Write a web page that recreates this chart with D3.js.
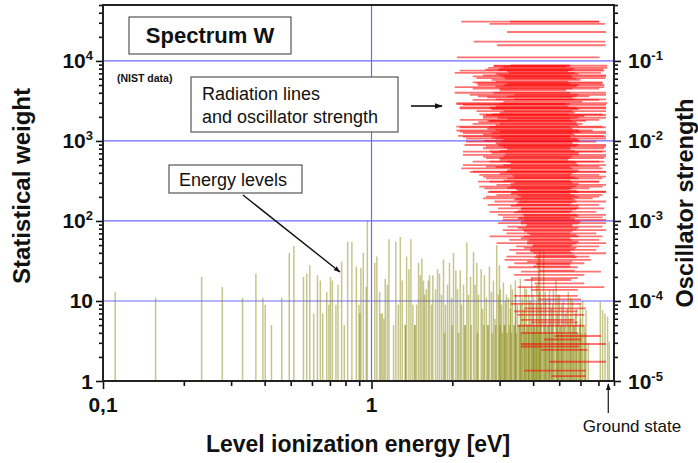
<!DOCTYPE html>
<html><head><meta charset="utf-8">
<script src="https://cdn.jsdelivr.net/npm/d3@7"></script>
<style>body{margin:0;background:#fff} svg{display:block} text{font-family:"Liberation Sans",Arial,sans-serif}</style>
</head><body><svg id="c" width="698" height="463"></svg>
<script>
// Energy levels: [ionization energy of level (eV), statistical weight]
const energyLevels = [
[0.111,13],[0.157,11],[0.233,20],[0.278,15],[0.331,11],[0.371,22],[0.394,11],[0.402,9],[0.424,5],[0.463,11],[0.494,40],[0.514,49],[0.558,20],[0.574,22],[0.589,28],[0.609,7],[0.629,21],[0.645,18],[0.658,7],[0.681,13],[0.694,9],[0.703,20],[0.715,18],[0.737,9],[0.750,16],[0.774,31],[0.792,5],[0.815,55],[0.845,55],[0.878,27],[0.898,9],[0.905,7],[0.913,26],[0.932,40],[0.956,15],[0.965,100],
[1.029,30],[1.047,36],[1.072,13],[1.084,7],[1.097,7],[1.112,6],[1.125,19],[1.145,16],[1.161,59],[1.208,5],[1.232,55],[1.258,9],[1.280,63],[1.302,18],[1.336,5],[1.338,5],[1.351,36],[1.378,25],[1.402,59],[1.426,9],[1.450,5],[1.452,5],[1.472,9],[1.497,30],[1.519,21],[1.540,34],[1.562,18],[1.576,12],[1.599,14],[1.627,18],[1.645,21],[1.673,9],[1.692,21],[1.732,14],[1.762,25],[1.792,22],[1.823,12],[1.854,33],[1.886,9],[1.919,16],[1.952,30],[1.986,11],[2.020,40],[2.061,24],[2.091,14],[2.140,24],[2.164,9],[2.201,16],[2.229,5],[2.231,5],[2.264,54],[2.297,12],[2.337,20],[2.398,41],[2.429,16],[2.466,30],[2.502,12],[2.560,25],[2.589,8],[2.634,21],[2.679,11],[2.714,5],[2.716,5],[2.749,27],[2.797,13],[2.845,18],[2.882,6],[2.926,50],[2.970,12],[2.995,28],[3.047,9],[3.099,17],[3.139,5],[3.179,12],[3.234,11],[3.29,8],[3.347,14],[3.39,5],[3.434,18],[3.493,9],[3.538,5],[3.584,19],[3.646,11],[3.709,8],[3.774,14],[3.839,5],[3.889,10],[3.95,20],[4.009,12],[4.061,5],[4.113,9],[4.184,36],[4.231,44],[4.292,9],[4.378,42],[4.442,13],[4.519,5],[4.596,11],[4.676,8],[4.755,14],[4.867,18],[4.921,7],[5.007,12],[5.093,5],[5.181,10],[5.27,7],[5.408,13],[5.502,6],[5.61,10],[5.69,5],[5.789,8],[5.889,4],[5.991,9.4],[6.111,10],[6.2,5],[6.291,7.7],[6.417,3],[7.113,9.8],[7.254,7.7],[7.405,7],[7.572,6.4],[7.68,3.1],
[1.87,4],[2.0,5],[2.11,4],[2.35,5],[2.48,4],[2.62,5],[2.82,4],[2.9,5],[3.01,5],[3.07,4],[3.12,5],[3.2,4],[3.26,5],[3.32,4],[3.41,5],[3.46,4],[3.56,5],[3.62,4],[3.68,5],[3.75,4],[3.8,5],[3.86,4],[3.93,5],[3.98,4],[4.03,5],[4.08,4],[4.15,5],[4.2,4],[4.26,5],[4.33,4],[4.4,5],[4.48,4],[4.56,5],[4.62,4],[4.7,5],[4.8,4],[4.9,5],[4.97,4],[5.05,5],[5.13,4],[5.22,5],[5.33,4],[5.45,5],[5.55,4],[5.65,5],[5.82,4],[5.95,5],[6.05,4],[6.25,4],
[3.02,14],[3.15,10],[3.3,16],[3.44,12],[3.6,9],[3.72,15],[3.85,12],[4.0,9],[4.12,16],[4.25,13],[4.45,10],[4.6,14],[4.72,9],[4.95,12],[5.12,9],[5.35,8],[5.52,11],[5.75,7],[6.0,6]
];

// Radiation lines: [upper-level ionization energy, lower-level ionization energy (eV), oscillator strength]
const radiationLines = [
[2.16,7.05,0.31],[3.28,7.05,0.31],[2.75,7.40,0.29],[3.20,7.47,0.23],[2.40,7.42,0.174],[2.93,7.45,0.157],[2.08,7.07,0.111],
[2.85,7.55,0.087],[2.85,5.46,0.086],[2.72,7.55,0.082],[2.65,7.30,0.078],[2.04,7.15,0.071],[2.60,7.47,0.066],[2.46,7.42,0.061],[2.38,7.25,0.054],[2.49,7.36,0.050],[2.38,7.05,0.045],[2.04,7.47,0.040],[2.49,6.47,0.036],[3.40,7.47,0.033],[2.07,5.31,0.0289],[2.19,7.47,0.0283],[2.13,7.47,0.0262],[2.46,7.47,0.0236],[2.52,7.25,0.0215],[2.60,7.47,0.0195],[2.75,6.29,0.0178],[2.38,6.11,0.0163],[2.13,7.47,0.0148],[2.07,6.66,0.0135],[2.19,7.47,0.0125],[2.10,7.36,0.0116],[2.25,7.47,0.0107],[2.63,5.94,0.0100],
[2.13,7.36,0.0757],[2.38,7.47,0.064],[2.46,7.25,0.0526],[2.04,7.36,0.047],[2.32,7.47,0.0376],[2.38,7.05,0.0326],[2.07,7.55,0.0296],[2.13,7.47,0.0256],[2.67,7.47,0.0211],[2.13,7.05,0.0183],[2.07,7.25,0.0151],[2.13,7.47,0.0131],[2.19,7.47,0.0113],[2.25,6.87,0.0098],[2.67,7.47,0.0085],[2.19,7.25,0.00735],[2.60,7.47,0.00637],[2.38,7.36,0.00551],[2.67,7.05,0.00477],[2.38,7.47,0.00413],[2.60,7.47,0.00358],[2.75,7.05,0.0031],[2.52,7.25,0.00268],[2.75,7.47,0.00232],[2.67,7.05,0.00201],
[2.22,7.47,0.0089],[2.60,7.36,0.0081],[2.75,7.47,0.0074],[2.19,7.47,0.0067],[2.67,7.36,0.0061],[2.75,7.05,0.0055],[2.19,7.47,0.0050],[2.16,7.25,0.00455],[2.32,7.47,0.0041],[2.52,7.05,0.00376],[2.67,7.25,0.0034],[2.49,7.05,0.0031],[2.92,7.47,0.00282],[2.63,6.47,0.00256],[2.71,7.47,0.0023],[2.92,7.25,0.00212],[2.60,6.66,0.00192],[2.87,7.47,0.00175],[2.71,7.05,0.00159],[2.96,7.36,0.00144],[2.75,6.87,0.0013],[2.96,7.47,0.00119],[3.08,7.25,0.00111],[3.08,7.47,0.00103],[2.96,7.47,0.00094],[3.21,7.25,0.00085],[3.08,7.47,0.00077],[3.18,6.87,0.0007],[2.75,7.25,0.00064],[3.26,7.05,0.00058],[2.92,7.47,0.00053],[3.45,7.05,0.00048],[3.26,6.87,0.000435],[3.45,7.47,0.000395],[3.18,6.47,0.000358],
[3.13,6.56,0.000326],[3.40,6.20,0.000296],[3.22,5.86,0.000264],[3.60,7.15,0.000233],[3.40,6.20,0.000212],[3.93,5.86,0.000193],[3.71,5.54,0.000183],[4.05,6.20,0.000166],[3.50,7.36,0.000149],[3.93,5.86,0.000138],[3.40,5.86,0.000116],[4.16,6.03,0.000105],[3.29,6.03,9.2e-5],[3.71,6.29,8.1e-5],[3.40,5.86,7.4e-5],[3.50,6.20,6.7e-5],[3.60,5.69,5.8e-5],[3.93,5.86,5.4e-5],[3.50,6.20,4.9e-5],[3.60,5.86,4.0e-5],[4.80,7.15,3.65e-5],[4.40,6.03,3.3e-5],[3.60,7.47,2.9e-5],[3.60,5.94,2.7e-5],[4.28,6.38,2.45e-5],[4.60,7.47,1.74e-5],[3.71,6.29,1.35e-5],[4.67,6.29,1.15e-5],
[3.3,5.5,0.088],[3.0,5.7,0.080],[3.2,5.4,0.074],[2.9,5.9,0.069],[3.1,5.6,0.063],[2.8,6.0,0.058],[3.2,5.5,0.052],[2.9,5.8,0.048],[3.0,5.3,0.043],[3.4,5.9,0.038],[2.7,5.6,0.035],[3.1,6.1,0.031],[2.9,5.4,0.027],[2.8,5.9,0.025],[3.0,5.7,0.0225],[2.6,6.2,0.0205],[3.2,5.5,0.019],[2.5,5.8,0.0172],[2.9,5.9,0.0158],[2.7,5.6,0.0142],[3.0,6.0,0.0130],[2.6,5.7,0.0120],[2.8,5.5,0.0111],[3.1,5.9,0.0103],[2.9,5.6,0.0094],[3.0,5.8,0.0087],[3.2,5.5,0.0079],[2.8,5.9,0.0071],[3.1,5.6,0.0064],[3.0,5.4,0.0058],[3.3,5.8,0.0053],[2.9,5.5,0.0047],[3.2,5.9,0.0043],[3.0,5.6,0.0039],[3.4,5.7,0.0035],[3.1,5.5,0.0032],[3.3,5.9,0.0029],[3.2,5.6,0.0026],[3.5,5.8,0.0024],[3.3,5.5,0.0022],[3.6,5.9,0.0020],[3.4,5.7,0.00185],[3.5,5.6,0.0017],[3.3,5.9,0.00155],[3.6,5.8,0.0014],[3.4,5.5,0.00128],[3.7,5.9,0.00116],[3.5,5.7,0.00107],[3.6,6.0,0.00098],[3.8,5.6,0.0009],[3.5,5.9,0.00082],[3.7,5.6,0.00074],[3.9,5.8,0.00067],[3.6,5.5,0.00061],[3.8,5.9,0.00055],[4.0,5.6,0.0005],[3.7,5.8,0.00046],[3.9,5.5,0.00042],[4.1,5.7,0.00037],[3.8,5.6,0.00031],[4.0,5.5,0.00027],[4.2,5.7,0.00024],
[3.1,5.3,0.085],[2.95,5.6,0.077],[3.25,5.7,0.071],[3.0,5.5,0.066],[3.15,5.8,0.060],[2.9,5.4,0.055],[3.1,5.9,0.050],[3.0,5.6,0.045],[2.85,5.5,0.040],[3.2,5.8,0.036],[2.9,5.7,0.033],[3.0,5.5,0.029],[2.75,5.8,0.026],[3.1,5.6,0.0235],[2.8,5.4,0.0215],[2.95,5.9,0.0195],[2.7,5.6,0.0178],[3.0,5.8,0.0165],[2.75,5.5,0.015],[2.9,5.9,0.0136],[2.8,5.6,0.0125],[3.0,5.5,0.0115],[2.9,5.8,0.0107],[3.05,5.6,0.0098],[2.95,5.9,0.009],[3.1,5.5,0.0083],[3.0,5.7,0.0075],[3.15,5.9,0.0068],[3.0,5.5,0.0061],[3.2,5.7,0.0055],[3.1,5.9,0.005],[3.3,5.6,0.0045],[3.15,5.8,0.0041],[3.35,5.5,0.0037],[3.2,5.9,0.0034],[3.4,5.6,0.003],[3.3,5.8,0.0027],[3.45,5.5,0.0025],[3.35,5.9,0.0023],[3.5,5.7,0.0021],[3.45,5.6,0.0019],[3.55,5.8,0.00175],[3.45,5.5,0.0016],[3.6,5.9,0.00145],[3.5,5.6,0.00133],[3.65,5.8,0.0012],[3.55,5.5,0.0011],[3.7,5.7,0.00102],[3.6,5.9,0.00093],[3.75,5.6,0.00086],[3.65,5.8,0.00078],[3.8,5.5,0.0007],[3.7,5.9,0.00064],[3.85,5.6,0.00058],[3.8,5.8,0.00052],[3.95,5.5,0.00048],[3.9,5.7,0.00044],[4.0,5.6,0.0004],[4.05,5.8,0.00035],[4.1,5.5,0.00029]
];

const xMajorTicks = [0.1, 1];
const xTickLabels = ["0,1", "1"];
const yLeftTicks = [1, 10, 100, 1000, 10000];
const yLeftBase = ["1", "10", "10", "10", "10"];
const yLeftExp = ["", "", "2", "3", "4"];
const yRightTicks = [1e-5, 1e-4, 1e-3, 1e-2, 1e-1];
const yRightBase = ["10", "10", "10", "10", "10"];
const yRightExp = ["-5", "-4", "-3", "-2", "-1"];
const gridValues = [10, 100, 1000, 10000];
const groundState = 7.62;

const m = {l:103, r:614, t:5, b:381};
const svg = d3.select("#c");
const x = d3.scaleLog().domain([0.1, 8]).range([m.l, m.r]);
const y = d3.scaleLog().domain([1, 5e4]).range([m.b, m.t]);
const y2 = d3.scaleLog().domain([1e-5, 0.5]).range([m.b, m.t]);

const defs = svg.append("defs");
defs.append("clipPath").attr("id","clip").append("rect")
  .attr("x", m.l).attr("y", m.t).attr("width", m.r-m.l).attr("height", m.b-m.t);
defs.append("marker").attr("id","arr").attr("viewBox","0 0 10 10").attr("refX",9).attr("refY",5)
  .attr("markerWidth",5).attr("markerHeight",5).attr("orient","auto").attr("markerUnits","strokeWidth")
  .append("path").attr("d","M0,1.5 L10,5 L0,8.5 z").attr("fill","#111");

const plot = svg.append("g").attr("clip-path","url(#clip)");
// grid
plot.selectAll(".gh").data(gridValues).join("line")
  .attr("x1", m.l).attr("x2", m.r).attr("y1", d=>y(d)).attr("y2", d=>y(d))
  .attr("stroke","#6a6aff").attr("stroke-width",1.2);
plot.append("line").attr("x1", x(1)).attr("x2", x(1)).attr("y1", m.t).attr("y2", m.b)
  .attr("stroke","#6a6aff").attr("stroke-width",1.2);

// energy level bars
plot.selectAll(".bar").data(energyLevels).join("line")
  .attr("x1", d=>x(d[0])).attr("x2", d=>x(d[0]))
  .attr("y1", y(1)).attr("y2", d=>y(d[1]))
  .attr("stroke","#808000").attr("stroke-opacity",0.45).attr("stroke-width",1.5);

// radiation lines
plot.selectAll(".rad").data(radiationLines).join("line")
  .attr("x1", d=>x(d[0])).attr("x2", d=>x(d[1]))
  .attr("y1", d=>y2(d[2])).attr("y2", d=>y2(d[2]))
  .attr("stroke","#ff0000").attr("stroke-opacity",0.55).attr("stroke-width",1.8);

// axes
const ax = svg.append("g");
const xMinor = x.ticks().filter(v => !xMajorTicks.includes(v));
ax.append("g").attr("transform",`translate(0,${m.b})`)
  .call(d3.axisBottom(x).tickValues(xMinor).tickSize(5).tickFormat(""))
  .call(g=>g.select(".domain").remove());
ax.append("g").attr("transform",`translate(0,${m.b})`)
  .call(d3.axisBottom(x).tickValues(xMajorTicks).tickSize(8).tickFormat(""))
  .call(g=>g.select(".domain").remove());
const yMinor = y.ticks().filter(v => !yLeftTicks.includes(v));
ax.append("g").attr("transform",`translate(${m.l},0)`)
  .call(d3.axisLeft(y).tickValues(yMinor).tickSize(4).tickFormat(""))
  .call(g=>g.select(".domain").remove());
ax.append("g").attr("transform",`translate(${m.l},0)`)
  .call(d3.axisLeft(y).tickValues(yLeftTicks).tickSize(7).tickFormat(""))
  .call(g=>g.select(".domain").remove());
const y2Minor = y2.ticks().filter(v => !yRightTicks.some(t => Math.abs(t - v) / t < 1e-6));
ax.append("g").attr("transform",`translate(${m.r},0)`)
  .call(d3.axisRight(y2).tickValues(y2Minor).tickSize(4).tickFormat(""))
  .call(g=>g.select(".domain").remove());
ax.append("g").attr("transform",`translate(${m.r},0)`)
  .call(d3.axisRight(y2).tickValues(yRightTicks).tickSize(7).tickFormat(""))
  .call(g=>g.select(".domain").remove());
ax.selectAll(".tick line").attr("stroke","#111").attr("stroke-width",1.6);

// frame
svg.append("rect").attr("x", m.l).attr("y", m.t).attr("width", m.r-m.l).attr("height", m.b-m.t)
  .attr("fill","none").attr("stroke","#222").attr("stroke-width",2);

// tick labels
xMajorTicks.forEach((v,i)=>{
  svg.append("text").attr("x", x(v)).attr("y", 412).attr("text-anchor","middle")
    .attr("font-size",21).attr("font-weight","bold").attr("fill","#111").text(xTickLabels[i]);
});
yLeftTicks.forEach((v,i)=>{
  const t = svg.append("text").attr("x", 93).attr("y", y(v)+7.5).attr("text-anchor","end")
    .attr("font-size",21).attr("font-weight","bold").attr("fill","#111");
  t.append("tspan").text(yLeftBase[i]);
  if (yLeftExp[i]) t.append("tspan").attr("dy",-8).attr("font-size",13).text(yLeftExp[i]);
});
yRightTicks.forEach((v,i)=>{
  const t = svg.append("text").attr("x", 628).attr("y", y2(v)+7.5).attr("text-anchor","start")
    .attr("font-size",21).attr("font-weight","bold").attr("fill","#111");
  t.append("tspan").text(yRightBase[i]);
  t.append("tspan").attr("dy",-8).attr("font-size",13).text(yRightExp[i]);
});

// axis titles
svg.append("text").attr("transform",`translate(30,186) rotate(-90)`).attr("text-anchor","middle")
  .attr("font-size",24).attr("font-weight","bold").attr("fill","#111").text("Statistical weight");
svg.append("text").attr("transform",`translate(693,203) rotate(-90)`).attr("text-anchor","middle")
  .attr("font-size",23.5).attr("font-weight","bold").attr("fill","#111").text("Oscillator strength");
svg.append("text").attr("x", 358).attr("y", 452).attr("text-anchor","middle")
  .attr("font-size",23).attr("font-weight","bold").attr("fill","#111").text("Level ionization energy [eV]");

// annotations
svg.append("rect").attr("x",129).attr("y",17).attr("width",162).attr("height",37)
  .attr("fill","#fff").attr("stroke","#555").attr("stroke-width",1.2);
svg.append("text").attr("x",210).attr("y",43).attr("text-anchor","middle")
  .attr("font-size",22).attr("font-weight","bold").attr("fill","#111").text("Spectrum W");
svg.append("text").attr("x",117).attr("y",82).attr("font-size",10.5).attr("font-weight","bold")
  .attr("fill","#111").text("(NIST data)");
svg.append("rect").attr("x",191).attr("y",77).attr("width",207).attr("height",55)
  .attr("fill","#fff").attr("stroke","#555").attr("stroke-width",1.2);
svg.append("text").attr("x",202).attr("y",100).attr("font-size",18).attr("fill","#111").text("Radiation lines");
svg.append("text").attr("x",202).attr("y",123).attr("font-size",18).attr("fill","#111").text("and oscillator strength");
svg.append("line").attr("x1",411).attr("y1",106).attr("x2",442).attr("y2",106)
  .attr("stroke","#111").attr("stroke-width",1.6).attr("marker-end","url(#arr)");
svg.append("rect").attr("x",169).attr("y",165).attr("width",133).attr("height",28)
  .attr("fill","#fff").attr("stroke","#555").attr("stroke-width",1.2);
svg.append("text").attr("x",179).attr("y",186).attr("font-size",18).attr("fill","#111").text("Energy levels");
svg.append("line").attr("x1",243).attr("y1",195).attr("x2",340).attr("y2",272)
  .attr("stroke","#111").attr("stroke-width",1.4).attr("marker-end","url(#arr)");
svg.append("line").attr("x1",x(groundState)).attr("y1",413).attr("x2",x(groundState)).attr("y2",384)
  .attr("stroke","#333").attr("stroke-width",1.4).attr("marker-end","url(#arr)");
svg.append("text").attr("x",632).attr("y",432).attr("text-anchor","middle").attr("font-size",17)
  .attr("fill","#111").text("Ground state");
</script></body></html>
